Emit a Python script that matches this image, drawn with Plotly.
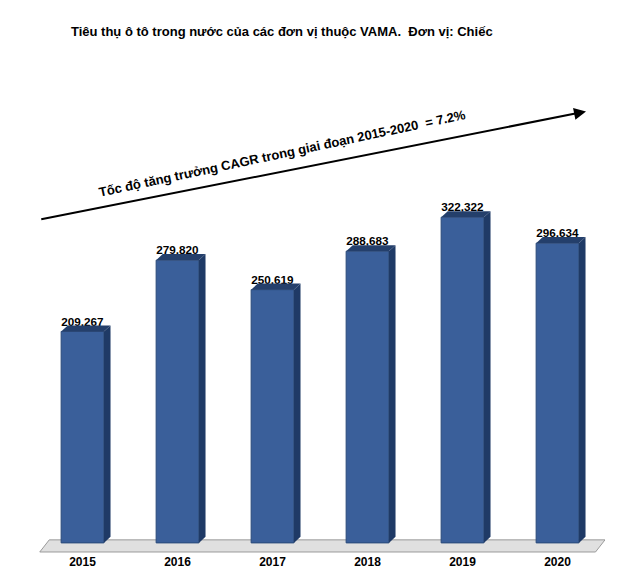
import plotly.graph_objects as go

years = ["2015", "2016", "2017", "2018", "2019", "2020"]
sales = [209267, 279820, 250619, 288683, 322322, 296634]
labels = ["209,267", "279,820", "250,619", "288,683", "322,322", "296,634"]

xs = list(range(len(years)))
w = 0.45
dx, dy = 0.07, 6000

fig = go.Figure()
shapes = []
# floor
shapes.append(dict(type="path", xref="x", yref="y",
    path=f"M -0.45 -9000 L 5.4 -9000 L 5.5 3000 L -0.35 3000 Z",
    fillcolor="#e0e0e0", line=dict(color="#9a9a9a", width=1), layer="below"))
for x, v in zip(xs, sales):
    l, r = x - w/2, x + w/2
    shapes.append(dict(type="path", xref="x", yref="y",
        path=f"M {r} 0 L {r+dx} {dy} L {r+dx} {v+dy} L {r} {v} Z",
        fillcolor="#1f3a66", line=dict(width=0)))
    shapes.append(dict(type="path", xref="x", yref="y",
        path=f"M {l} {v} L {l+dx} {v+dy} L {r+dx} {v+dy} L {r} {v} Z",
        fillcolor="#243f6b", line=dict(width=0)))

fig.add_trace(go.Bar(x=xs, y=sales, width=w, marker=dict(color="#3a5f9a",
    line=dict(color="#2a4a7a", width=1)),
    text=labels, textposition="outside", cliponaxis=False,
    textfont=dict(family="Arial, Liberation Sans", size=12, color="black")))

fig.update_layout(
    width=624, height=583, margin=dict(l=27, r=27, t=60, b=38),
    plot_bgcolor="white", paper_bgcolor="white", showlegend=False,
    shapes=shapes,
    font=dict(family="Arial, Liberation Sans", color="black"),
    xaxis=dict(range=[-0.5, 5.5], tickvals=xs, ticktext=[f"<b>{y}</b>" for y in years],
               showgrid=False, zeroline=False, showline=False, ticks="", tickfont=dict(size=12)),
    yaxis=dict(range=[-10000, 470000], visible=False),
    uniformtext=dict(minsize=12),
    annotations=[
        dict(text="<b>Tiêu thụ ô tô trong nước của các đơn vị thuộc VAMA.  Đơn vị: Chiếc</b>",
             xref="paper", yref="paper", x=0.06, y=1.055, xanchor="left", yanchor="bottom",
             showarrow=False, font=dict(size=13)),
        dict(x=5.3, y=427000, ax=-0.45, ay=320000, xref="x", yref="y", axref="x", ayref="y",
             showarrow=True, arrowhead=2, arrowsize=1.2, arrowwidth=2, arrowcolor="black", text=""),
        dict(text="<b>Tốc độ tăng trưởng CAGR trong giai đoạn 2015-2020  = 7.2%</b>",
             xref="x", yref="y", x=2.1, y=385000, showarrow=False, textangle=-12,
             font=dict(size=13)),
    ],
)
fig.update_traces(textfont_size=12, texttemplate="<b>%{text}</b>")
fig.write_html("out.html")
